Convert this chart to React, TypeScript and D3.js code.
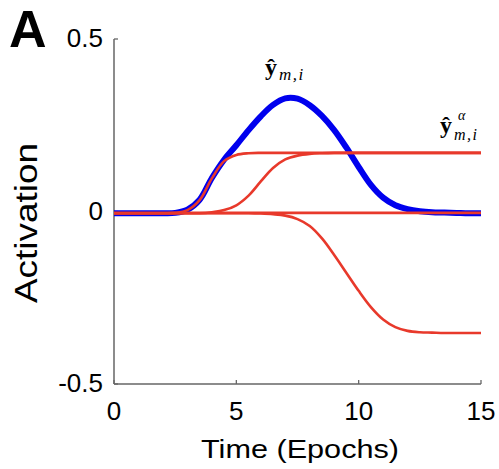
import React from "react";
import * as d3 from "d3";

const times = [0, 0.5, 1, 1.5, 2, 2.5, 3, 3.5, 4, 4.5, 5, 5.5, 6, 6.5, 7, 7.5, 8, 8.5, 9, 9.5, 10, 10.5, 11, 11.5, 12, 12.5, 13, 13.5, 14, 14.5, 15];

const blueTotal = [-0.005, -0.005, -0.005, -0.005, -0.005, -0.004, 0.005, 0.034, 0.097, 0.150, 0.192, 0.236, 0.276, 0.309, 0.328, 0.327, 0.308, 0.277, 0.236, 0.185, 0.129, 0.077, 0.040, 0.018, 0.007, 0.001, -0.002, -0.003, -0.004, -0.005, -0.005];

const redEarly = [-0.005, -0.005, -0.005, -0.005, -0.005, -0.004, 0.004, 0.033, 0.096, 0.146, 0.164, 0.169, 0.170, 0.170, 0.170, 0.170, 0.170, 0.170, 0.170, 0.170, 0.170, 0.170, 0.170, 0.170, 0.170, 0.170, 0.170, 0.170, 0.170, 0.170, 0.170];

const redLate = [-0.005, -0.005, -0.005, -0.005, -0.005, -0.005, -0.005, -0.005, -0.002, 0.004, 0.018, 0.046, 0.087, 0.126, 0.151, 0.162, 0.167, 0.169, 0.170, 0.170, 0.170, 0.170, 0.170, 0.170, 0.170, 0.170, 0.170, 0.170, 0.170, 0.170, 0.170];

const redFlat = [-0.004, -0.004, -0.004, -0.004, -0.004, -0.004, -0.004, -0.004, -0.004, -0.004, -0.004, -0.004, -0.004, -0.004, -0.004, -0.004, -0.004, -0.004, -0.004, -0.004, -0.004, -0.004, -0.004, -0.004, -0.004, -0.004, -0.004, -0.004, -0.004, -0.004, -0.004];

const redNeg = [-0.005, -0.005, -0.005, -0.005, -0.005, -0.005, -0.005, -0.005, -0.005, -0.005, -0.005, -0.005, -0.006, -0.008, -0.012, -0.022, -0.042, -0.078, -0.126, -0.178, -0.230, -0.277, -0.313, -0.335, -0.346, -0.350, -0.351, -0.352, -0.352, -0.352, -0.352];

const redSeries = [redEarly, redLate, redFlat, redNeg];

const xTicks = [0, 5, 10, 15];
const xTickLabels = ["0", "5", "10", "15"];
const yTicks = [-0.5, 0, 0.5];
const yTickLabels = ["-0.5", "0", "0.5"];

const W = 499;
const H = 469;
const BLUE = "#0000ee";
const RED = "#e8392b";
const AXIS = "#666666";
const SANS = "'Liberation Sans', Arial, Helvetica, sans-serif";
const SERIF = "'Liberation Serif', 'Times New Roman', serif";

export default function App() {
  const x = d3.scaleLinear().domain([0, 15]).range([114, 481]);
  const y = d3.scaleLinear().domain([-0.5, 0.5]).range([384, 39]);

  const line = (vals: number[]) =>
    d3
      .line<number>()
      .x((_, i) => x(times[i]))
      .y((v) => y(v))
      .curve(d3.curveCatmullRom.alpha(0.5))(vals) || "";

  return (
    <svg
      width={W}
      height={H}
      viewBox={`0 0 ${W} ${H}`}
      style={{ position: "absolute", left: 0, top: 0, background: "#fff" }}
    >
      <rect x={0} y={0} width={W} height={H} fill="#fff" />

      {/* panel letter */}
      <text x={9} y={47} fontFamily={SANS} fontWeight="bold" fontSize={52} fill="#000">
        A
      </text>

      {/* axes */}
      <line x1={x(0)} x2={x(0)} y1={y(0.5)} y2={y(-0.5)} stroke={AXIS} strokeWidth={1.5} />
      <line x1={x(0)} x2={x(15)} y1={y(-0.5)} y2={y(-0.5)} stroke={AXIS} strokeWidth={1.5} />
      {yTicks.map((t) => (
        <line key={"yt" + t} x1={x(0)} x2={x(0) + 4} y1={y(t)} y2={y(t)} stroke={AXIS} strokeWidth={1.3} />
      ))}
      {xTicks.map((t) => (
        <line key={"xt" + t} x1={x(t)} x2={x(t)} y1={y(-0.5)} y2={y(-0.5) - 4} stroke={AXIS} strokeWidth={1.3} />
      ))}

      {/* tick labels */}
      {yTicks.map((t, i) => (
        <text
          key={"yl" + t}
          x={103}
          y={y(t) + 8}
          textAnchor="end"
          fontFamily={SANS}
          fontSize={26}
          fill="#000"
        >
          {yTickLabels[i]}
        </text>
      ))}
      {xTicks.map((t, i) => (
        <text
          key={"xl" + t}
          x={x(t)}
          y={420}
          textAnchor="middle"
          fontFamily={SANS}
          fontSize={26}
          fill="#000"
        >
          {xTickLabels[i]}
        </text>
      ))}

      {/* axis titles */}
      <text
        x={201}
        y={458}
        fontFamily={SANS}
        fontSize={25.5}
        textLength={198}
        lengthAdjust="spacingAndGlyphs"
        fill="#000"
      >
        Time (Epochs)
      </text>
      <text
        transform={`translate(37,303) rotate(-90)`}
        x={0}
        y={0}
        fontFamily={SANS}
        fontSize={31}
        textLength={160}
        lengthAdjust="spacingAndGlyphs"
        fill="#000"
      >
        Activation
      </text>

      {/* curves */}
      <path d={line(blueTotal)} fill="none" stroke={BLUE} strokeWidth={6} strokeLinejoin="round" />
      {redSeries.map((s, i) => (
        <path key={"r" + i} d={line(s)} fill="none" stroke={RED} strokeWidth={2.6} strokeLinejoin="round" />
      ))}

      {/* annotations */}
      <text x={265} y={75} fontFamily={SERIF} fill="#000">
        <tspan fontSize={24} fontWeight="bold">ŷ</tspan>
        <tspan fontSize={17} fontStyle="italic" dy={5} dx={2} letterSpacing={1.5}>m,i</tspan>
      </text>
      <text x={440} y={133} fontFamily={SERIF} fontSize={24} fontWeight="bold" fill="#000">
        ŷ
      </text>
      <text x={458} y={120} fontFamily={SERIF} fontSize={14} fontStyle="italic" fill="#000">
        α
      </text>
      <text x={454} y={140} fontFamily={SERIF} fontSize={16} fontStyle="italic" letterSpacing={1.5} fill="#000">
        m,i
      </text>
    </svg>
  );
}
